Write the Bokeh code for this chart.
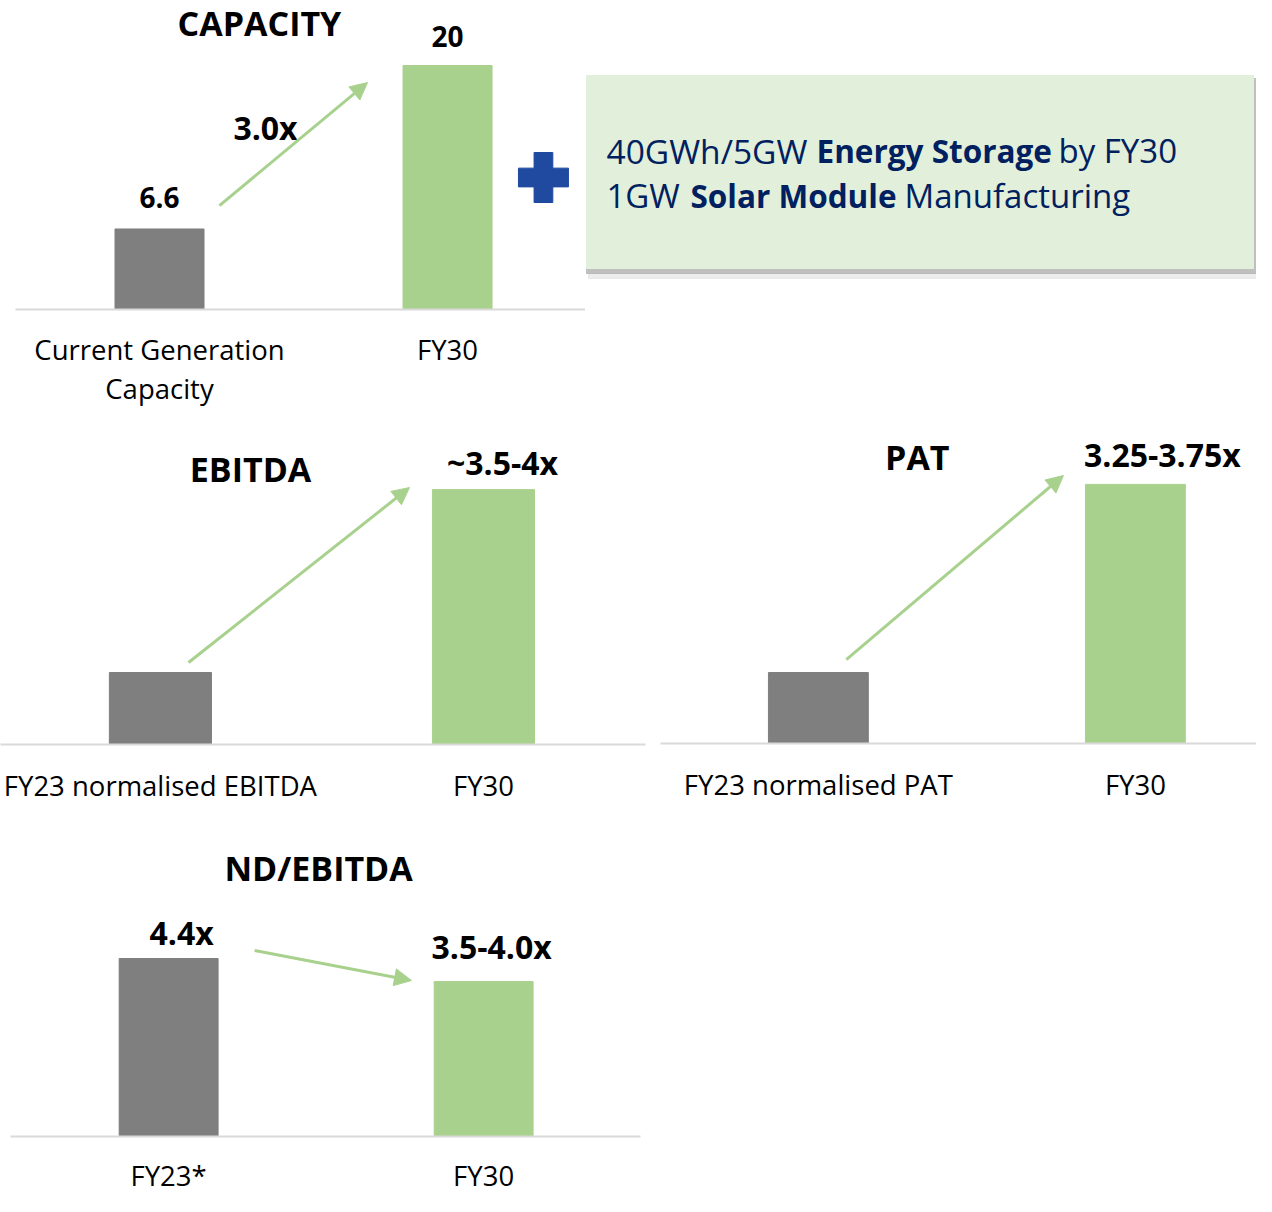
from bokeh.plotting import figure
from bokeh.layouts import column, row
from bokeh.models import Range1d, FixedTicker, Arrow, NormalHead, ColumnDataSource
from bokeh.core.properties import value
from bokeh.embed import file_html
from bokeh.resources import INLINE

# ---------------- data ----------------
cap_categories = ["Current Generation\nCapacity", "FY30"]
cap_values = [6.6, 20]
cap_labels = ["6.6", "20"]
cap_growth = "3.0x"

ebitda_categories = ["FY23 normalised EBITDA", "FY30"]
ebitda_values = [1.0, 3.54]
ebitda_labels = ["", "~3.5-4x"]

pat_categories = ["FY23 normalised PAT", "FY30"]
pat_values = [1.0, 3.65]
pat_labels = ["", "3.25-3.75x"]

nd_categories = ["FY23*", "FY30"]
nd_values = [4.4, 3.83]
nd_labels = ["4.4x", "3.5-4.0x"]

box_line1 = ["40GWh/5GW", "Energy Storage", "by FY30"]
box_line2 = ["1GW", "Solar Module", "Manufacturing"]

# ---------------- styles ----------------
GRAY = "#7f7f7f"
GREEN = "#a9d18e"
AXIS = "#d9d9d9"
NAVY = "#002060"
PLUS = "#1f4aa0"
FONT = "Open Sans"


def base_fig(width, height, xr, yr, left, right, top, bottom, xaxis=True):
    p = figure(width=width, height=height, x_range=Range1d(*xr), y_range=Range1d(*yr),
               output_backend="svg", toolbar_location=None, y_axis_location=None,
               x_axis_location="below" if xaxis else None, frame_align=False,
               min_border_left=left, min_border_right=right,
               min_border_top=top, min_border_bottom=bottom)
    p.outline_line_color = None
    p.grid.visible = False
    p.background_fill_color = "white"
    p.border_fill_color = "white"
    return p


def bar_chart(p, categories, values, labels, bar_width, label_offsets, label_size,
              title, title_xy, arrow, standoff, line_height=1.06):
    xs = list(range(len(categories)))
    src = ColumnDataSource(dict(x=xs, top=values, color=[GRAY, GREEN][:len(values)],
                                label=labels,
                                xo=[o[0] for o in label_offsets],
                                yo=[o[1] for o in label_offsets]))
    p.vbar(x="x", top="top", bottom=0, width=bar_width, color="color", source=src)
    p.text(x="x", y="top", text="label", x_offset="xo", y_offset="yo", source=src,
           text_font=value(FONT), text_font_style="bold", text_font_size=label_size,
           text_align="center", text_baseline="alphabetic", text_color="black")
    p.text(x=[title_xy[0]], y=[title_xy[1]], text=[title], text_font=value(FONT),
           text_font_style="bold", text_font_size="34px", text_align="center",
           text_baseline="middle", text_color="black")
    p.add_layout(Arrow(end=NormalHead(size=17, fill_color=GREEN, line_color=GREEN, line_width=1),
                       x_start=arrow[0], y_start=arrow[1], x_end=arrow[2], y_end=arrow[3],
                       line_color=GREEN, line_width=3))
    ax = p.xaxis[0]
    ax.ticker = FixedTicker(ticks=xs)
    ax.major_label_overrides = {i: c for i, c in enumerate(categories)}
    ax.axis_line_color = AXIS
    ax.axis_line_width = 2
    ax.major_tick_line_color = None
    ax.minor_tick_line_color = None
    ax.major_label_text_font = FONT
    ax.major_label_text_font_size = "27.5px"
    ax.major_label_text_color = "black"
    ax.major_label_text_line_height = line_height
    ax.major_label_standoff = standoff
    return p


# ---------------- capacity ----------------
cap = base_fig(585, 420, (-0.5, 1.479), (0, 25.33), 15, 0, 0, 111)
bar_chart(cap, cap_categories, cap_values, cap_labels, 0.309, [(0, -31), (0, -29)], "28px",
          "CAPACITY", (0.347, 23.5), (0.208, 8.52, 0.722, 18.6), 15)
cap.text(x=[0.368], y=[14.95], text=[cap_growth], text_font=value(FONT), text_font_style="bold",
         text_font_size="32px", text_align="center", text_baseline="middle", text_color="black")
cap.scatter(x=[1.333], y=[10.82], marker="plus", size=50, color=PLUS)

# ---------------- text box ----------------
box = base_fig(671, 420, (585, 1256), (420, 0), 0, 0, 0, 0, xaxis=False)
box.quad(left=[588, 586], right=[1256, 1256], top=[80, 78], bottom=[278, 273],
         color=["#e0e0e0", "#b0b0b0"], alpha=[0.6, 0.75])
box.quad(left=[586], right=[1253], top=[75], bottom=[268], color="#e2efda")
box.text(x=[606, 816, 1058], y=[150] * 3, text=box_line1, text_font=value(FONT),
         text_font_style=["normal", "bold", "normal"],
         text_font_size=["33.5px", "31.5px", "33px"],
         text_baseline="middle", text_color=NAVY)
box.text(x=[606, 690, 904], y=[195] * 3, text=box_line2, text_font=value(FONT),
         text_font_style=["normal", "bold", "normal"],
         text_font_size=["33px", "31.5px", "33px"],
         text_baseline="middle", text_color=NAVY)

# ---------------- EBITDA ----------------
ebitda = base_fig(660, 394, (-0.495, 1.5015), (0, 4.5), 0, 15, 0, 70)
bar_chart(ebitda, ebitda_categories, ebitda_values, ebitda_labels, 0.316,
          [(0, 0), (19, -27)], "32px", "EBITDA", (0.279, 3.82),
          (0.087, 1.139, 0.771, 3.569), 16)

# ---------------- PAT ----------------
pat = base_fig(596, 394, (-0.498, 1.382), (0, 4.55), 0, 0, 0, 71)
bar_chart(pat, pat_categories, pat_values, pat_labels, 0.315,
          [(0, 0), (27, -30)], "32px", "PAT", (0.312, 4.04),
          (0.088, 1.183, 0.773, 3.775), 16)

# ---------------- ND/EBITDA ----------------
nd = base_fig(650, 382, (-0.502, 1.498), (0, 7.96), 10, 10, 0, 60)
bar_chart(nd, nd_categories, nd_values, nd_labels, 0.314,
          [(13, -26), (8, -35)], "32px", "ND/EBITDA", (0.476, 6.63),
          (0.273, 4.60, 0.771, 3.857), 14)

layout = column(row(cap, box), row(ebitda, pat), row(nd))
open("out.html", "w").write(file_html(layout, INLINE))
